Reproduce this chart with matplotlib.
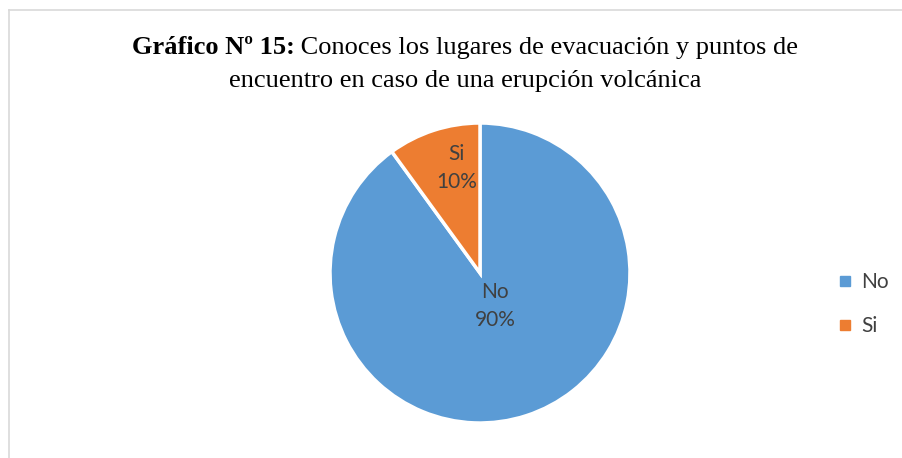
import matplotlib
matplotlib.use("Agg")
import matplotlib.pyplot as plt
from matplotlib.lines import Line2D

categories = ["No", "Si"]
values = [90, 10]
colors = ["#5B9BD5", "#ED7D31"]
title_bold = "Gráfico Nº 15:"
title_rest1 = " Conoces los lugares de evacuación y puntos de"
title_line2 = "encuentro en caso de una erupción volcánica"

W, H = 903, 458
fig = plt.figure(figsize=(W / 100, H / 100), dpi=100)

# frame (top and left borders visible)
fig.add_artist(Line2D([9 / W, 1], [1 - 10 / H, 1 - 10 / H], color="#D9D9D9", lw=1.2))
fig.add_artist(Line2D([9 / W, 9 / W], [0, 1 - 10 / H], color="#D9D9D9", lw=1.2))

cx, cy, r = 480, 273, 150
ax = fig.add_axes([(cx - r) / W, (H - cy - r) / H, 2 * r / W, 2 * r / H])
wedges, _ = ax.pie(values, colors=colors, startangle=90, counterclock=False,
                   radius=1, wedgeprops=dict(edgecolor="white", linewidth=2.5))
ax.set_xlim(-1, 1)
ax.set_ylim(-1, 1)
ax.set_aspect("equal")
ax.axis("off")

lab_font = dict(family=["Lato", "DejaVu Sans"], fontsize=15, color="#404040",
                ha="center", va="center", linespacing=1.55)
label_pos = [(0.10, -0.22), (-0.155, 0.70)]
for cat, v, (x, y) in zip(categories, values, label_pos):
    ax.text(x, y, f"{cat}\n{v}%", **lab_font)

# title with bold prefix
tfont = ["Liberation Serif", "DejaVu Serif"]
fs = 19
fig.canvas.draw()
rend = fig.canvas.get_renderer()
tb = fig.text(0, 0, title_bold, fontsize=fs, family=tfont, weight="bold")
tr = fig.text(0, 0, title_rest1, fontsize=fs, family=tfont)
wb = tb.get_window_extent(rend).width
wr = tr.get_window_extent(rend).width
total = wb + wr
x0 = 465 - total / 2
y1 = 1 - 48 / H
tb.set_position((x0 / W, y1))
tb.set_va("center")
tr.set_position(((x0 + wb) / W, y1))
tr.set_va("center")
fig.text(465 / W, 1 - 81 / H, title_line2, fontsize=fs, family=tfont,
         ha="center", va="center")

handles = [Line2D([], [], marker="s", color=c, linestyle="none", markersize=6.5)
           for c in colors]
fig.legend(handles, categories, loc="center left",
           bbox_to_anchor=(826 / W, 1 - 304 / H), frameon=False,
           prop=dict(family=["Lato", "DejaVu Sans"], size=15),
           labelcolor="#404040", handlelength=0.8, handletextpad=0.4,
           labelspacing=1.15, borderpad=0)

fig.savefig("out.png", dpi=100, facecolor="white")
